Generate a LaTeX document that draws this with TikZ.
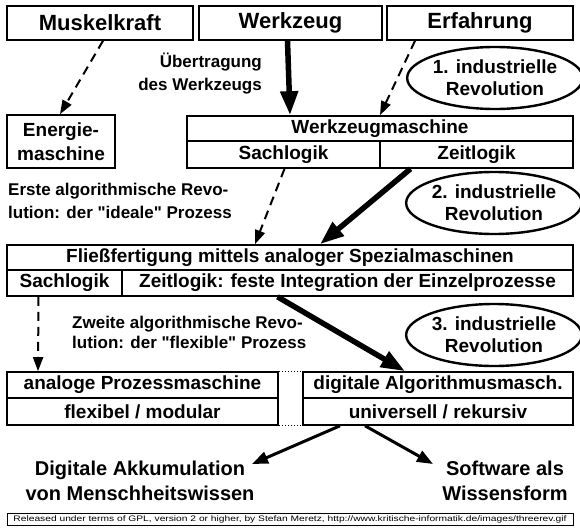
\documentclass[tikz,border=0pt]{standalone}
\usepackage{fontspec}
\setmainfont{Liberation Sans}[Ligatures=TeXOff]
\usetikzlibrary{shapes.geometric,arrows.meta,calc}
\begin{document}
\begin{tikzpicture}[x=1pt,y=-1pt,
  box/.style={draw,line width=1.6pt,inner sep=0pt,font=\bfseries\fontsize{19}{22}\selectfont},
  topbox/.style={box,font=\bfseries\fontsize{22}{24}\selectfont},
  lbl/.style={inner sep=0pt,font=\bfseries\fontsize{17}{23}\selectfont},
  ell/.style={draw,ellipse,line width=2.4pt,inner sep=0pt,minimum width=142pt,minimum height=62pt,align=center,font=\bfseries\fontsize{19}{22}\selectfont},
  thickarr/.style={line width=5.5pt,-{Triangle[length=24pt,width=17pt]}},
  dasharr/.style={line width=2pt,dash pattern=on 9pt off 6pt,-{Triangle[length=14pt,width=10pt]}},
  thinarr/.style={line width=3pt,-{Triangle[length=16pt,width=12pt]}},
]
\fill[white] (0,0) rectangle (580,527);
\useasboundingbox (0,0) rectangle (580,527);

\node[topbox,minimum width=186pt,minimum height=34pt] (musk) at (100,23) {Muskelkraft};
\node[topbox,minimum width=183pt,minimum height=34pt] (werk) at (290.5,23) {Werkzeug};
\node[topbox,minimum width=186pt,minimum height=34pt] (erf) at (480,23) {Erfahrung};

\node[box,minimum width=108pt,minimum height=53pt,align=center,font=\bfseries\fontsize{19}{24}\selectfont] (energ) at (61,141.5) {Energie-\\maschine};

\node[box,minimum width=386pt,minimum height=25pt] (wm) at (380,128.5) {Werkzeugmaschine};
\node[box,minimum width=193pt,minimum height=27pt] (wms) at (283.5,154.5) {Sachlogik};
\node[box,minimum width=193pt,minimum height=27pt] (wmz) at (476.5,154.5) {Zeitlogik};

\node[ell] (ell1) at (495,78) {1. industrielle\\Revolution};
\node[lbl,anchor=east,align=right] (uebert) at (262,74) {Übertragung\\des Werkzeugs};

\node[ell] (ell2) at (494,203) {2. industrielle\\Revolution};
\node[lbl,anchor=west,align=left] (erste) at (8,201) {Erste algorithmische Revo-\\lution: der "ideale" Prozess};

\node[box,minimum width=566pt,minimum height=25pt] (ff) at (290,257.5) {Fließfertigung mittels analoger Spezialmaschinen};
\node[box,minimum width=115pt,minimum height=26pt] (ffs) at (64.5,283) {Sachlogik};
\node[box,minimum width=451pt,minimum height=26pt] (ffz) at (347.5,283) {Zeitlogik: feste Integration der Einzelprozesse};

\node[lbl,anchor=west,align=left,font=\bfseries\fontsize{17}{20}\selectfont] (zweite) at (72,332) {Zweite algorithmische Revo-\\lution: der "flexible" Prozess};
\node[ell] (ell3) at (494,335) {3. industrielle\\Revolution};

\node[box,minimum width=271pt,minimum height=26pt] (apm) at (142.5,385) {analoge Prozessmaschine};
\node[box,minimum width=271pt,minimum height=27pt] (apmb) at (142.5,411.5) {flexibel / modular};
\node[box,minimum width=270pt,minimum height=26pt] (dam) at (438,385) {digitale Algorithmusmasch.};
\node[box,minimum width=270pt,minimum height=27pt] (damb) at (438,411.5) {universell / rekursiv};

\node[inner sep=0pt,align=center,font=\bfseries\fontsize{20}{25}\selectfont] (dig) at (140,481) {Digitale Akkumulation\\von Menschheitswissen};
\node[inner sep=0pt,align=center,font=\bfseries\fontsize{20}{25}\selectfont] (soft) at (505,481) {Software als\\Wissensform};
\coordinate (digtip) at (252,464);
\coordinate (softtip) at (433,464);

\node[draw,line width=0.8pt,minimum width=566pt,minimum height=12pt,inner sep=0pt] (foot) at (290,519) {\scalebox{1.28}[1]{\fontsize{8}{9}\selectfont Released under terms of GPL, version 2 or higher, by Stefan Meretz, http://www.kritische-informatik.de/images/threerev.gif}};

% connectors
\draw[dasharr] ([xshift=3pt]musk.south) -- ([xshift=-1pt]energ.north);
\draw[thickarr] ([xshift=-3pt]werk.south) -- ([xshift=-90pt]wm.north);
\draw[dasharr] ([xshift=-65pt]erf.south) -- (wm.north);
\draw[thickarr] ([xshift=-66pt]wmz.south) -- ([xshift=30pt]ff.north);
\draw[dasharr] ([xshift=1pt]wms.south) -- ([xshift=-35pt]ff.north);
\draw[dasharr] ([xshift=-26pt]ffs.south) -- ([xshift=-104.5pt]apm.north);
\draw[thickarr] ([xshift=-70pt]ffz.south) -- ([xshift=-33pt]dam.north);
\draw[dotted,line width=1pt] (apm.north east) -- (dam.north west);
\draw[dotted,line width=1pt] (apmb.south east) -- (damb.south west);
\draw[thinarr] ([xshift=-98pt]damb.south) -- (digtip);
\draw[thinarr] ([xshift=-73pt]damb.south) -- (softtip);
\end{tikzpicture}
\end{document}
